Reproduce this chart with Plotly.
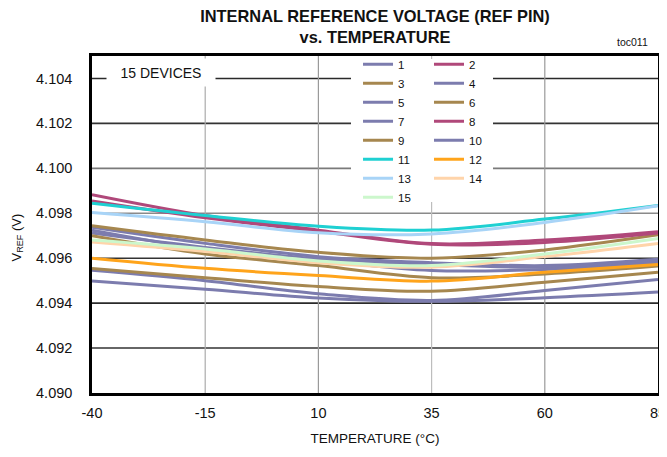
import plotly.graph_objects as go

# ---------------- data ----------------
temps = [-40, -15, 10, 35, 60, 85]
x_ticks = [-40, -15, 10, 35, 60, 85]
y_ticks = [4.090, 4.092, 4.094, 4.096, 4.098, 4.100, 4.102, 4.104]
device_names = ["1", "2", "3", "4", "5", "6", "7", "8", "9", "10", "11", "12", "13", "14", "15"]

dev1 = [4.09738, 4.09666, 4.09607, 4.09580, 4.09567, 4.09595]
dev2 = [4.09883, 4.09790, 4.09725, 4.09665, 4.09681, 4.09718]
dev3 = [4.09744, 4.09681, 4.09626, 4.09600, 4.09637, 4.09704]
dev4 = [4.09546, 4.09500, 4.09442, 4.09412, 4.09456, 4.09505]
dev5 = [4.09712, 4.09648, 4.09597, 4.09572, 4.09560, 4.09588]
dev6 = [4.09700, 4.09619, 4.09567, 4.09513, 4.09530, 4.09565]
dev7 = [4.09499, 4.09462, 4.09423, 4.09408, 4.09424, 4.09449]
dev8 = [4.09855, 4.09780, 4.09720, 4.09662, 4.09670, 4.09712]
dev9 = [4.09554, 4.09513, 4.09474, 4.09453, 4.09493, 4.09537]
dev10 = [4.09725, 4.09640, 4.09590, 4.09545, 4.09550, 4.09580]
dev11 = [4.09845, 4.09790, 4.09742, 4.09725, 4.09774, 4.09835]
dev12 = [4.09600, 4.09555, 4.09523, 4.09498, 4.09537, 4.09572]
dev13 = [4.09803, 4.09762, 4.09713, 4.09708, 4.09759, 4.09833]
dev14 = [4.09672, 4.09630, 4.09580, 4.09560, 4.09607, 4.09666]
dev15 = [4.09681, 4.09641, 4.09588, 4.09567, 4.09619, 4.09688]

devices = [dev1, dev2, dev3, dev4, dev5, dev6, dev7, dev8, dev9, dev10,
           dev11, dev12, dev13, dev14, dev15]

# ---------------- styles ----------------
PURPLE = "#7c7cae"
BROWN = "#a6874f"
MAROON = "#b0487a"
CYAN = "#1fd0d2"
ORANGE = "#ffa41b"
LBLUE = "#a8d4f7"
PEACH = "#ffd4aa"
LGREEN = "#ccf7cc"
colors = [PURPLE, MAROON, BROWN, PURPLE, PURPLE, BROWN, PURPLE, MAROON, BROWN,
          PURPLE, CYAN, ORANGE, LBLUE, PEACH, LGREEN]
ygrid_colors = ["#000000", "#333333", "#2a2a2a", "#333333", "#8a8a8a", "#7a7a7a", "#333333", "#2a2a2a"]
xgrid_colors = ["#000000", "#ababab", "#9a9a9a", "#bdbdbd", "#9a9a9a", "#000000"]

FONT = "Liberation Sans, Arial, sans-serif"

fig = go.Figure()
for i, (name, ys) in enumerate(zip(device_names, devices)):
    fig.add_trace(go.Scatter(
        x=temps, y=ys, name=name, mode="lines",
        line=dict(color=colors[i], width=3, shape="spline", smoothing=1.0),
        legend="legend" if i % 2 == 0 else "legend2",
        hoverinfo="x+y+name",
    ))

shapes = []
# horizontal grid lines
for v, c in zip(y_ticks[1:], ygrid_colors[1:]):
    shapes.append(dict(type="line", xref="paper", yref="y", x0=0, x1=1, y0=v, y1=v,
                       line=dict(color=c, width=1.6), layer="below"))
# vertical grid lines
for v, c in zip(x_ticks[1:-1], xgrid_colors[1:-1]):
    shapes.append(dict(type="line", xref="x", yref="paper", x0=v, x1=v, y0=0, y1=1,
                       line=dict(color=c, width=1.2), layer="below"))
# white panel behind the legend
shapes.append(dict(type="rect", xref="paper", yref="paper", x0=0.4576, x1=0.7085,
                   y0=0.5668, y1=0.9911, fillcolor="white", line=dict(width=0), layer="above"))

# the page body adds an 8 px offset, so the figure is sized to end at the window edge
fig.update_layout(
    width=659, height=441,
    margin=dict(l=84, r=9, t=48, b=56, autoexpand=False),
    paper_bgcolor="white", plot_bgcolor="white",
    title=dict(
        text="INTERNAL REFERENCE VOLTAGE (REF PIN)<br>vs. TEMPERATURE",
        font=dict(family=FONT, size=16.4, color="#111111", weight="bold"),
        x=0.5, xref="paper", xanchor="center",
        y=1 - 14 / 441, yref="container", yanchor="top",
    ),
    xaxis=dict(
        range=[-40, 85], tickvals=x_ticks, ticktext=[str(t) for t in x_ticks],
        showgrid=False, zeroline=False, showline=True, mirror=True,
        linecolor="black", linewidth=2.5, ticks="", ticklabelstandoff=5,
        ticklabeloverflow="allow",
        tickfont=dict(family=FONT, size=14.5, color="#111111"),
        title=dict(text="TEMPERATURE (°C)", standoff=14,
                   font=dict(family=FONT, size=13.5, color="#111111")),
    ),
    yaxis=dict(
        range=[4.090, 4.105], tickvals=y_ticks, ticktext=[f"{t:.3f}" for t in y_ticks],
        showgrid=False, zeroline=False, showline=True, mirror=True,
        linecolor="black", linewidth=2.5, ticks="", ticklabelstandoff=14,
        ticklabeloverflow="allow",
        tickfont=dict(family=FONT, size=14.5, color="#111111"),
    ),
    legend=dict(
        x=0.470, y=1.0187, xref="paper", yref="paper", xanchor="left", yanchor="top",
        bgcolor="rgba(0,0,0,0)", borderwidth=0, itemwidth=30,
        font=dict(family=FONT, size=11.5, color="#111111"), traceorder="normal",
    ),
    legend2=dict(
        x=0.5954, y=1.0187, xref="paper", yref="paper", xanchor="left", yanchor="top",
        bgcolor="rgba(0,0,0,0)", borderwidth=0, itemwidth=30,
        font=dict(family=FONT, size=11.5, color="#111111"), traceorder="normal",
    ),
    shapes=shapes,
    annotations=[
        dict(text="V<sub>REF</sub> (V)", xref="paper", yref="paper", x=-0.1316, y=0.46,
             xanchor="center", yanchor="middle", textangle=-90, showarrow=False,
             font=dict(family=FONT, size=13, color="#111111")),
        dict(text="15 DEVICES", xref="paper", yref="paper", x=0.1219, y=0.951,
             xanchor="center", yanchor="middle", showarrow=False, width=106, height=25,
             bgcolor="white", font=dict(family=FONT, size=14, color="#111111")),
        dict(text="toc011", xref="paper", yref="paper", x=0.986, y=1.0415,
             xanchor="right", yanchor="middle", showarrow=False,
             font=dict(family=FONT, size=10.5, color="#111111")),
    ],
)

fig.write_html("out.html")
